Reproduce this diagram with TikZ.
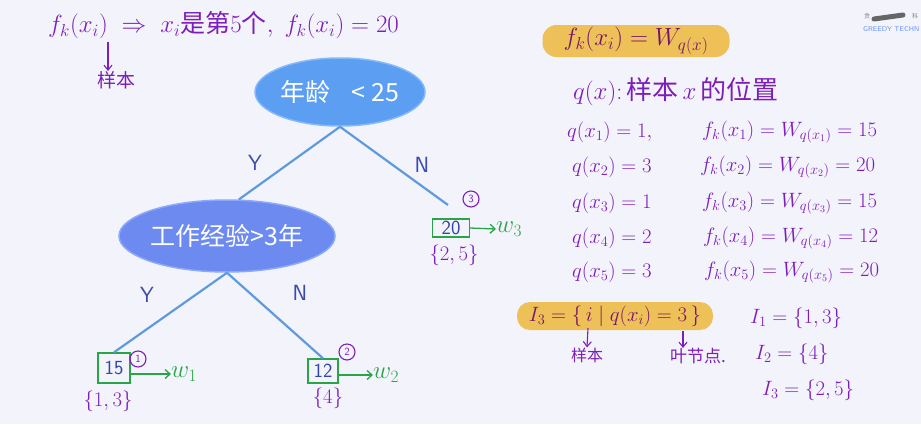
\documentclass[tikz,border=0pt]{standalone}
\usepackage{fontspec}
\newfontfamily\cjk{Noto Sans CJK SC}
\usetikzlibrary{arrows.meta,shapes.geometric}
\definecolor{bgc}{RGB}{243,243,252}
\definecolor{hpurple}{RGB}{125,30,185}
\definecolor{hmag}{RGB}{120,20,105}
\definecolor{hgreen}{RGB}{40,165,70}
\definecolor{hblue}{RGB}{50,70,165}
\definecolor{ynblue}{RGB}{60,75,170}
\definecolor{edgec}{RGB}{95,155,220}
\definecolor{rootc}{RGB}{92,158,242}
\definecolor{rootb}{RGB}{130,185,250}
\definecolor{workc}{RGB}{108,138,240}
\definecolor{workb}{RGB}{140,170,250}
\definecolor{hly}{RGB}{238,192,88}
\begin{document}
\begin{tikzpicture}[x=1pt,y=-1pt,
  hand/.style={text=hpurple,inner sep=0pt,font=\fontsize{20}{24}\selectfont},
  handsm/.style={text=hpurple,inner sep=0pt,font=\fontsize{16}{19}\selectfont\cjk},
  parrow/.style={draw=hpurple,line width=1.1pt,-{Straight Barb[length=5pt,width=8pt]}},
  garrow/.style={draw=hgreen,line width=1.3pt,-{Straight Barb[length=5pt,width=9pt]}},
  edge/.style={draw=edgec,line width=2.2pt},
  yn/.style={text=ynblue,font=\fontsize{22}{26}\selectfont\sffamily},
  decision/.style={ellipse,line width=1.5pt,text=white,inner sep=0pt,font=\fontsize{25}{29}\selectfont\cjk},
  leafbox/.style={draw=hgreen,line width=1.4pt,text=hblue,inner sep=0pt,font=\fontsize{20}{23}\selectfont\sffamily},
  circnum/.style={circle,draw=hpurple,line width=1.1pt,text=hpurple,inner sep=1pt,minimum size=16pt,font=\fontsize{11}{12}\selectfont\sffamily},
  wlab/.style={text=hgreen,inner sep=0pt,font=\fontsize{23}{26}\selectfont},
  setlab/.style={text=hpurple,inner sep=0pt,font=\fontsize{22}{25}\selectfont},
  hlbox/.style={fill=hly,rounded corners=14pt,text=hmag,inner sep=0pt,font=\fontsize{21}{25}\selectfont}]
\useasboundingbox (0,0) rectangle (921,424);
\fill[bgc] (0,0) rectangle (921,424);
\clip (0,0) rectangle (921,424);

% logo (cut off at the edge in the reference)
\node[anchor=west,inner sep=0pt,text=rootb!80!blue,font=\fontsize{7}{8}\selectfont\sffamily] (logo) at (863,29) {GREEDY TECHN};
\node[anchor=west,inner sep=0pt,text=gray,font=\fontsize{6}{7}\selectfont\cjk] (logoa) at (864,16) {贪};
\node[anchor=west,inner sep=0pt,text=gray,font=\fontsize{6}{7}\selectfont\cjk] (logob) at (912,16) {科};
\draw[gray!80!black,line width=5pt,line cap=round] (874,19) -- (903,15);

% top-left note
\node[hand,anchor=west,font=\fontsize{25}{29}\selectfont] (note) at (48,25) {$f_k(x_i)\;\Rightarrow\;x_i${\cjk 是第}$5${\cjk 个}$,\;f_k(x_i)=20$};
\coordinate (xiA) at (108,42);
\node[handsm,font=\fontsize{19}{22}\selectfont\cjk] (sample) at (116,80) {样本};
\draw[parrow] (xiA) -- (xiA |- sample.north);

% tree
\node[decision,fill=rootc,draw=rootb,minimum width=170pt,minimum height=68pt] (root) at (340,92) {年龄\ \ \ \,< 25};
\node[decision,fill=workc,draw=workb,minimum width=189pt,minimum height=72pt] (work) at (227,236) {工作经验>3年};
\node[leafbox,minimum width=32pt,minimum height=30pt] (b15) at (114,368) {15};
\node[leafbox,minimum width=30pt,minimum height=24pt] (b12) at (323,371) {12};
\node[leafbox,minimum width=37pt,minimum height=18pt] (b20) at (451,228) {20};
\coordinate (n3end) at (448,205);

\draw[edge] (root.south) -- (work.72);
\draw[edge] (root.south) -- (n3end);
\draw[edge] (work.south) -- (b15.north);
\draw[edge] (work.south) -- (b12.north);

\node[yn] (y1) at (255,163) {Y};
\node[yn] (n1) at (422,165) {N};
\node[yn] (y2) at (147,295) {Y};
\node[yn] (n2) at (300,293) {N};

\node[circnum] (c1) at (138,359) {1};
\node[circnum] (c2) at (347,352) {2};
\node[circnum] (c3) at (471,199) {3};

\node[wlab,anchor=west] (w1) at (171,374) {$w_1$};
\node[wlab,anchor=west] (w2) at (373,375) {$w_2$};
\node[wlab,anchor=west] (w3) at (496,229) {$w_3$};
\draw[garrow] (b15.east |- w1.west) -- (w1.west);
\draw[garrow] (b12.east |- w2.west) -- (w2.west);
\draw[garrow] (b20.east) -- (w3.west);

\node[setlab] (s15) at (108,401) {$\{1,3\}$};
\node[setlab] (s12) at (328,398) {$\{4\}$};
\node[setlab] (s20) at (454,255) {$\{2,5\}$};

% right side
\node[hlbox,minimum width=187pt,minimum height=32pt,font=\fontsize{27}{30}\selectfont] (hl1) at (636,41) {$f_k(x_i)=W_{q(x)}$};
\node[hand,anchor=west,font=\fontsize{24}{28}\selectfont] (qx) at (573,92) {$q(x)$:\,{\cjk\fontsize{26}{30}\selectfont 样本}$\,x\,${\cjk\fontsize{26}{30}\selectfont 的位置}};

\node[hand,anchor=west] (qa) at (567,132) {$q(x_1)=1,$};
\node[hand,anchor=west] (qb) at (572,167) {$q(x_2)=3$};
\node[hand,anchor=west] (qc) at (572,203) {$q(x_3)=1$};
\node[hand,anchor=west] (qd) at (572,238) {$q(x_4)=2$};
\node[hand,anchor=west] (qe) at (572,272) {$q(x_5)=3$};
\node[hand,anchor=west] (fa) at (702,132) {$f_k(x_1)=W_{q(x_1)}=15$};
\node[hand,anchor=west] (fb) at (700,167) {$f_k(x_2)=W_{q(x_2)}=20$};
\node[hand,anchor=west] (fc) at (702,203) {$f_k(x_3)=W_{q(x_3)}=15$};
\node[hand,anchor=west] (fd) at (703,238) {$f_k(x_4)=W_{q(x_4)}=12$};
\node[hand,anchor=west] (fe) at (704,272) {$f_k(x_5)=W_{q(x_5)}=20$};

\node[hlbox,minimum width=196pt,minimum height=28pt,rounded corners=13pt] (hl2) at (615,316) {$I_3=\{\,i\;|\;q(x_i)=3\,\}$};
\coordinate (arA) at (588,328);
\coordinate (arB) at (683,331);
\node[handsm] (sample2) at (587,355) {样本};
\node[handsm,anchor=west,font=\fontsize{17}{20}\selectfont\cjk] (leafn) at (670,356) {叶节点.};
\draw[parrow] (arA) -- (sample2.north);
\draw[parrow] (arB) -- (arB |- leafn.north);

\node[hand,anchor=west] (i1) at (750,318) {$I_1=\{1,3\}$};
\node[hand,anchor=west] (i2) at (755,354) {$I_2=\{4\}$};
\node[hand,anchor=west] (i3) at (762,390) {$I_3=\{2,5\}$};
\end{tikzpicture}
\end{document}
